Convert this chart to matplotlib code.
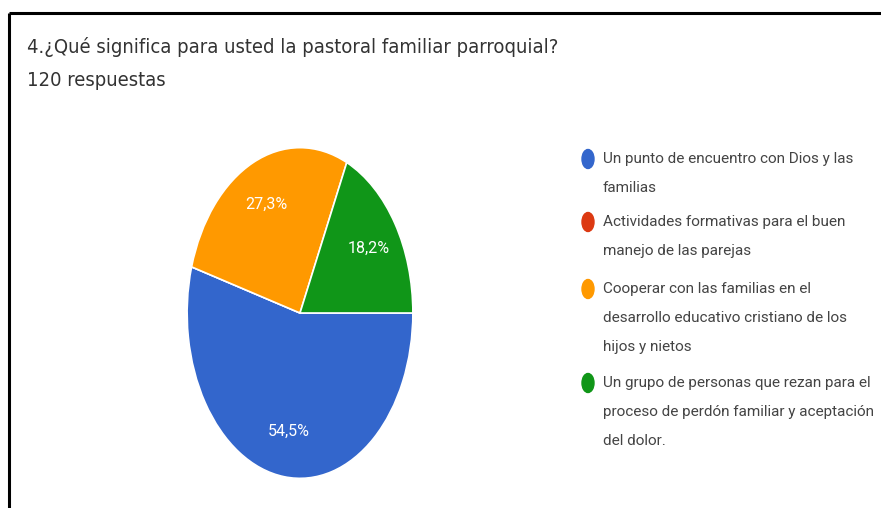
import matplotlib.pyplot as plt
from matplotlib.patches import Ellipse

W, H = 881, 508

# Data
titulo = "4.¿Qué significa para usted la pastoral familiar parroquial?"
subtitulo = "120 respuestas"
porcentajes = [54.5, 0.0, 27.3, 18.2]
colores = ['#3366cc', '#dc3912', '#ff9900', '#109618']
etiquetas = [
    ["Un punto de encuentro con Dios y las", "familias"],
    ["Actividades formativas para el buen", "manejo de las parejas"],
    ["Cooperar con las familias en el", "desarrollo educativo cristiano de los", "hijos y nietos"],
    ["Un grupo de personas que rezan para el", "proceso de perdón familiar y aceptación", "del dolor."],
]

fam_leyenda = ['Roboto', 'DejaVu Sans']

fig = plt.figure(figsize=(W / 100, H / 100), dpi=100)

# frame (top and left edges only)
bg = fig.add_axes([0, 0, 1, 1])
bg.set_xlim(0, W)
bg.set_ylim(H, 0)
bg.axis('off')
bg.plot([9, W], [12.5, 12.5], color='black', lw=2.2, solid_capstyle='butt')
bg.plot([9, 9], [12.5, H], color='black', lw=2.2, solid_capstyle='butt')

bg.text(27, 47, titulo, fontsize=14.5, family='DejaVu Sans', fontstretch='condensed',
        color='#333333', va='center', ha='left')
bg.text(27, 81, subtitulo, fontsize=14.5, family='DejaVu Sans', fontstretch='condensed',
        color='#333333', va='center', ha='left')

# pie (stretched vertically like the screenshot)
ax = fig.add_axes([186 / W, 1 - 480 / H, 228 / W, 334 / H])


def fmt_pct(p):
    return '' if p < 0.5 else f"{p:.1f}%".replace('.', ',')


wedges, textos, autotextos = ax.pie(
    porcentajes, colors=colores, startangle=0, counterclock=False,
    autopct=fmt_pct, pctdistance=0.72,
    wedgeprops=dict(edgecolor='white', linewidth=1.2),
    textprops=dict(color='white', fontsize=11.5, family=fam_leyenda))
ax.set_aspect('auto')
ax.set_xlim(-1.01, 1.01)
ax.set_ylim(-1.01, 1.01)

# legend drawn by hand
y0 = [159, 222, 289, 383]
salto = 29
for col, lineas, y in zip(colores, etiquetas, y0):
    bg.add_patch(Ellipse((588, y), 12, 19, color=col))
    for i, linea in enumerate(lineas):
        bg.text(603, y + i * salto, linea, fontsize=11, family=fam_leyenda,
                color='#444444', va='center', ha='left')

fig.savefig('out.png', dpi=100)
